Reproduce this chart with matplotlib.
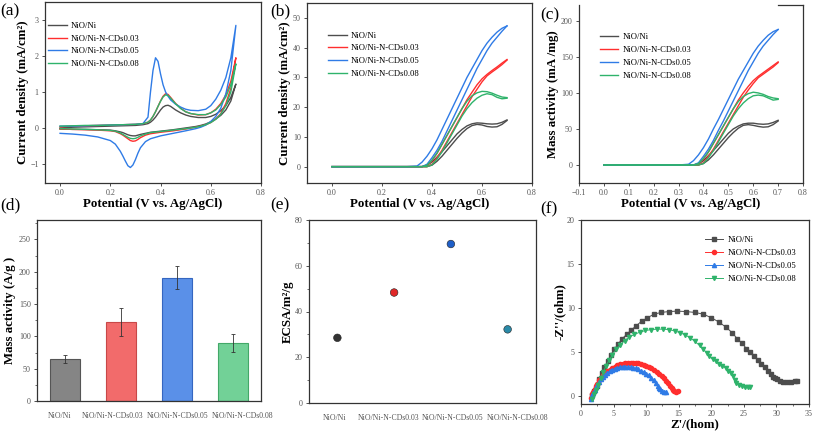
import matplotlib
matplotlib.use("Agg")
import matplotlib.pyplot as plt
import matplotlib.transforms as mtransforms

plt.rcParams['font.family'] = ['Liberation Serif', 'DejaVu Serif']

names = ["NiO/Ni", "NiO/Ni-N-CDs0.03", "NiO/Ni-N-CDs0.05", "NiO/Ni-N-CDs0.08"]
colors = ["#4d4d4d", "#ff2e2e", "#2f7be6", "#2fb36b"]

# ---- (a) CV curves: forward and reverse scans
xf = [0, 0.05, 0.1, 0.15, 0.2, 0.25, 0.3, 0.33, 0.35, 0.36, 0.37, 0.38, 0.39, 0.40, 0.41,
      0.42, 0.43, 0.44, 0.46, 0.48, 0.5, 0.52, 0.55, 0.58, 0.6, 0.62, 0.64, 0.66, 0.68, 0.7]
a_fwd_ni = [0.0, 0.02, 0.03, 0.04, 0.05, 0.06, 0.07, 0.09, 0.12, 0.16, 0.22, 0.30, 0.40, 0.50, 0.58,
            0.62, 0.63, 0.60, 0.50, 0.42, 0.36, 0.32, 0.29, 0.29, 0.32, 0.38, 0.48, 0.62, 0.85, 1.22]
a_fwd_03 = [0.03, 0.05, 0.06, 0.07, 0.08, 0.09, 0.10, 0.12, 0.16, 0.22, 0.32, 0.45, 0.60, 0.75, 0.88,
            0.95, 0.93, 0.85, 0.68, 0.55, 0.45, 0.40, 0.36, 0.37, 0.42, 0.52, 0.68, 0.92, 1.30, 1.95]
a_fwd_05 = [0.05, 0.05, 0.06, 0.07, 0.08, 0.09, 0.10, 0.12, 0.30, 1.00, 1.60, 1.95, 1.85, 1.50, 1.20,
            1.00, 0.88, 0.78, 0.66, 0.58, 0.52, 0.49, 0.48, 0.52, 0.62, 0.80, 1.05, 1.40, 1.95, 2.85]
a_fwd_08 = [0.05, 0.06, 0.07, 0.07, 0.08, 0.09, 0.10, 0.12, 0.16, 0.22, 0.32, 0.45, 0.60, 0.74, 0.86,
            0.92, 0.90, 0.83, 0.67, 0.54, 0.45, 0.40, 0.37, 0.37, 0.42, 0.50, 0.65, 0.86, 1.20, 1.78]
xr = [0.7, 0.68, 0.66, 0.64, 0.62, 0.6, 0.58, 0.56, 0.54, 0.5, 0.45, 0.4, 0.36, 0.34, 0.32,
      0.31, 0.30, 0.29, 0.28, 0.27, 0.26, 0.25, 0.24, 0.22, 0.2, 0.15, 0.1, 0.05, 0.0]
a_rev_ni = [1.22, 0.75, 0.50, 0.35, 0.25, 0.17, 0.11, 0.07, 0.04, 0.0, -0.05, -0.09, -0.12, -0.15, -0.18,
            -0.20, -0.22, -0.22, -0.21, -0.19, -0.16, -0.13, -0.11, -0.08, -0.06, -0.05, -0.04, -0.04, -0.03]
a_rev_03 = [1.95, 1.10, 0.68, 0.40, 0.25, 0.15, 0.09, 0.05, 0.02, -0.03, -0.08, -0.12, -0.16, -0.20, -0.27,
            -0.32, -0.36, -0.37, -0.35, -0.30, -0.25, -0.20, -0.16, -0.10, -0.08, -0.06, -0.05, -0.04, -0.03]
a_rev_05 = [2.85, 1.60, 0.95, 0.55, 0.32, 0.18, 0.08, 0.02, -0.02, -0.08, -0.15, -0.22, -0.30, -0.38, -0.55,
            -0.70, -0.88, -1.03, -1.10, -1.05, -0.92, -0.78, -0.65, -0.45, -0.35, -0.25, -0.20, -0.17, -0.15]
a_rev_08 = [1.78, 1.00, 0.62, 0.38, 0.24, 0.15, 0.09, 0.05, 0.02, -0.02, -0.06, -0.10, -0.13, -0.17, -0.22,
            -0.26, -0.29, -0.30, -0.29, -0.26, -0.22, -0.18, -0.14, -0.09, -0.07, -0.05, -0.04, -0.03, -0.02]

# ---- (b) current density loops, (c) mass activity loops
xb = [0, 0.1, 0.2, 0.3, 0.34, 0.36, 0.38, 0.40, 0.42, 0.44, 0.46, 0.48, 0.5, 0.52, 0.54, 0.56,
      0.58, 0.6, 0.62, 0.64, 0.66, 0.68, 0.7]
b_up_ni = [0, 0, 0, 0, 0, 0, 0.4, 1.6, 3.2, 5, 7, 9, 11, 12.5, 13.7, 14.4, 14.7, 14.6, 14.4, 14.3, 14.4, 14.9, 15.7]
b_lo_ni = [0, 0, 0, 0, 0, 0, 0, 0.5, 1.8, 3.5, 5.5, 7.5, 9.5, 11.3, 12.8, 13.8, 14.2, 14, 13.5, 13.3, 13.4, 14.2, 15.5]
b_up_03 = [0, 0, 0, 0, 0, 0, 0.5, 2, 4.5, 7.5, 10.5, 13.5, 16.5, 19.5, 22.5, 25, 27.5, 29.5, 31, 32.3, 33.5, 34.8, 36]
b_lo_03 = [0, 0, 0, 0, 0, 0, 0, 0.8, 3, 5.5, 8.5, 11.5, 14.5, 17.5, 20.5, 23.5, 26, 28.5, 30.5, 31.8, 33, 34.3, 35.8]
b_up_05 = [0, 0, 0, 0, 0.2, 1.5, 3.5, 6, 9, 12.5, 16, 19.5, 23, 26.5, 30, 33, 36, 39, 41.5, 43.5, 45.2, 46.5, 47.3]
b_lo_05 = [0, 0, 0, 0, 0, 0, 0.8, 3, 5.5, 8.5, 12, 15.5, 19, 22.5, 26, 29.5, 33, 36, 39, 41.5, 43.5, 45.5, 47.3]
b_up_08 = [0, 0, 0, 0, 0, 0, 0.5, 2.2, 4.5, 7.5, 10.5, 13.5, 16.5, 19.5, 22, 23.8, 24.8, 25.3, 25.2, 24.7, 24, 23.4, 23.2]
b_lo_08 = [0, 0, 0, 0, 0, 0, 0, 0.6, 2.5, 5, 8, 11, 14, 17, 19.5, 21.5, 23, 24, 24.5, 24.2, 23.3, 22.8, 23]

c_up_ni = [0, 0, 0, 0, 0, 0, 1.5, 6, 13, 20, 28, 36, 44, 50, 54, 57, 58, 58, 57, 56.5, 57, 59, 62]
c_lo_ni = [0, 0, 0, 0, 0, 0, 0, 2, 7, 14, 22, 30, 38, 45, 51, 55, 56, 55, 53.5, 52.5, 53, 56, 61]
c_up_03 = [0, 0, 0, 0, 0, 0, 2, 8, 18, 30, 42, 54, 66, 78, 90, 100, 109, 117, 123, 128, 133, 138, 143]
c_lo_03 = [0, 0, 0, 0, 0, 0, 0, 3, 12, 22, 34, 46, 58, 70, 82, 94, 104, 113, 121, 126, 131, 136, 142]
c_up_05 = [0, 0, 0, 0, 1, 6, 14, 24, 36, 50, 63, 77, 91, 105, 119, 131, 143, 155, 165, 173, 180, 185, 188]
c_lo_05 = [0, 0, 0, 0, 0, 0, 3, 12, 22, 34, 48, 61, 75, 89, 103, 117, 131, 143, 155, 165, 173, 181, 188]
c_up_08 = [0, 0, 0, 0, 0, 0, 2, 9, 18, 30, 42, 54, 66, 78, 88, 95, 99, 101, 100, 98, 95, 93, 92]
c_lo_08 = [0, 0, 0, 0, 0, 0, 0, 2, 10, 20, 32, 44, 56, 68, 78, 86, 92, 96, 97, 96, 93, 90, 91]

# ---- (d) mass activity bars, (e) ECSA
mass_act = [65, 122, 191, 90]
mass_err = [6, 22, 18, 14]
bar_colors = ["#858585", "#f26b6b", "#5a90e8", "#72d197"]
bar_edges = ["#555555", "#c84848", "#3566c0", "#43a868"]
ecsa = [28.5, 48.3, 69.5, 32.2]
ecsa_colors = ["#333333", "#e02828", "#1f5fc8", "#2a8aa8"]

# ---- (f) Nyquist
nq_x_ni = [1.7, 2.0, 2.4, 2.8, 3.2, 3.6, 4.1, 4.6, 5.1, 5.7, 6.3, 7.0, 7.7, 8.5, 9.3, 10.2, 11.2, 12.3,
           13.5, 14.8, 16.1, 17.5, 18.8, 20.0, 21.2, 22.3, 23.2, 24.0, 24.7, 25.4, 26.0, 26.6, 27.2,
           27.7, 28.2, 28.7, 29.1, 29.5, 29.8, 30.1, 30.5, 31.0, 31.6, 32.2, 32.8, 33.2]
nq_y_ni = [0.1, 0.6, 1.2, 1.9, 2.6, 3.3, 4.0, 4.7, 5.3, 5.9, 6.5, 7.0, 7.5, 8.0, 8.5, 8.9, 9.3, 9.5,
           9.6, 9.65, 9.6, 9.5, 9.3, 8.9, 8.4, 7.8, 7.2, 6.5, 6.0, 5.4, 5.0, 4.6, 4.1,
           3.7, 3.3, 2.9, 2.5, 2.2, 2.0, 1.9, 1.75, 1.65, 1.6, 1.65, 1.7, 1.75]
nq_x_03 = [1.5, 1.7, 1.9, 2.1, 2.3, 2.5, 2.8, 3.1, 3.4, 3.7, 4.0, 4.4, 4.8, 5.2, 5.6, 6.0, 6.4, 6.8,
           7.2, 7.6, 8.0, 8.4, 8.8, 9.2, 9.6, 10.0, 10.4, 10.8, 11.2, 11.6, 12.0, 12.4, 12.8, 13.1,
           13.4, 13.7, 13.9, 14.1, 14.3, 14.6, 14.9]
nq_y_03 = [-0.2, 0.2, 0.5, 0.8, 1.1, 1.4, 1.8, 2.1, 2.4, 2.6, 2.8, 3.0, 3.2, 3.35, 3.5, 3.6, 3.7, 3.75,
           3.8, 3.8, 3.8, 3.78, 3.72, 3.65, 3.55, 3.45, 3.3, 3.15, 2.95, 2.75, 2.5, 2.25, 2.0, 1.75,
           1.5, 1.2, 0.9, 0.7, 0.55, 0.5, 0.55]
nq_x_05 = [1.5, 1.7, 1.9, 2.1, 2.3, 2.5, 2.8, 3.1, 3.4, 3.7, 4.0, 4.4, 4.8, 5.2, 5.6, 6.0, 6.4, 6.8,
           7.2, 7.6, 8.0, 8.4, 8.8, 9.2, 9.6, 10.0, 10.4, 10.8, 11.2, 11.5, 11.8, 12.0, 12.2, 12.4,
           12.7, 13.0]
nq_y_05 = [-0.3, 0.1, 0.4, 0.7, 1.0, 1.3, 1.6, 1.9, 2.15, 2.4, 2.6, 2.8, 2.95, 3.1, 3.2, 3.28, 3.3, 3.32,
           3.3, 3.28, 3.22, 3.15, 3.05, 2.9, 2.75, 2.55, 2.35, 2.1, 1.8, 1.5, 1.2, 0.95, 0.75, 0.6,
           0.5, 0.5]
nq_x_08 = [1.7, 2.0, 2.3, 2.6, 3.0, 3.4, 3.8, 4.3, 4.8, 5.4, 6.0, 6.7, 7.4, 8.2, 9.0, 9.9, 10.8, 11.7,
           12.6, 13.5, 14.4, 15.2, 16.0, 16.8, 17.5, 18.2, 18.8, 19.3, 19.7, 20.2, 20.7, 21.2, 21.7,
           22.2, 22.6, 23.0, 23.3, 23.6, 23.8, 24.2, 24.7, 25.2, 25.6, 26.0]
nq_y_08 = [-0.3, 0.2, 0.7, 1.3, 2.0, 2.7, 3.4, 4.1, 4.7, 5.3, 5.8, 6.3, 6.7, 7.0, 7.25, 7.45, 7.55, 7.6,
           7.6, 7.55, 7.4, 7.2, 6.95, 6.6, 6.2, 5.75, 5.3, 4.9, 4.5, 4.2, 3.95, 3.7, 3.45,
           3.2, 2.9, 2.6, 2.3, 1.8, 1.5, 1.3, 1.15, 1.05, 1.0, 1.05]

W, H = 813, 432
fig = plt.figure(figsize=(W / 100, H / 100), dpi=100)


def make_ax(l, r, t, b):
    ax = fig.add_axes([l / W, 1 - b / H, (r - l) / W, (b - t) / H])
    for s in ax.spines.values():
        s.set_linewidth(0.9)
        s.set_color("#333333")
    ax.tick_params(which="both", labelsize=5.8, length=2.5, width=0.6, pad=2,
                   colors="#333333", labelcolor="#555555")
    ax.tick_params(which="minor", length=1.5, width=0.5)
    return ax


def sample_labels(ax, shifts):
    # category labels sit a little off-centre in the original
    ax.set_xticks(range(4))
    ax.set_xticklabels(names, fontsize=5.6)
    ax.tick_params(axis="x", length=0, pad=8)
    for lab, dx in zip(ax.get_xticklabels(), shifts):
        lab.set_transform(lab.get_transform() +
                          mtransforms.ScaledTranslation(dx / 100, 0, fig.dpi_scale_trans))


lab_font = dict(fontsize=9.3, fontweight="bold")
leg_kw = dict(frameon=False, fontsize=6.2, handlelength=2.1, labelspacing=0.55,
              loc="upper left", borderaxespad=0, handletextpad=0.5)

# (a)
ax = make_ax(45, 261, 2, 183)
fwd = [a_fwd_ni, a_fwd_03, a_fwd_05, a_fwd_08]
rev = [a_rev_ni, a_rev_03, a_rev_05, a_rev_08]
for i in range(4):
    ax.plot(xf + xr, fwd[i] + rev[i], color=colors[i], lw=1.0, label=names[i])
ax.set_xlim(-0.06, 0.8)
ax.set_ylim(-1.53, 3.5)
ax.set_xticks([0.0, 0.2, 0.4, 0.6, 0.8])
ax.set_yticks([-1, 0, 1, 2, 3])
ax.set_xlabel("Potential (V vs. Ag/AgCl)", labelpad=0.5, **lab_font)
ax.set_ylabel("Current density (mA/cm²)", labelpad=1, **lab_font)
ax.legend(bbox_to_anchor=(0.0, 0.91), **leg_kw)

# (b) and (c)
for (l, r, t, b), ups, los, ylim, yt, xl, ylab in [
    ((307, 532, 3, 183), [b_up_ni, b_up_03, b_up_05, b_up_08], [b_lo_ni, b_lo_03, b_lo_05, b_lo_08],
     (-5.5, 55), [0, 10, 20, 30, 40, 50], -0.1, "Current density (mA/cm²)"),
    ((579, 803, 5, 183), [c_up_ni, c_up_03, c_up_05, c_up_08], [c_lo_ni, c_lo_03, c_lo_05, c_lo_08],
     (-25, 222), [0, 50, 100, 150, 200], -0.1, "Mass activity (mA /mg)"),
]:
    ax = make_ax(l, r, t, b)
    for i in range(4):
        ax.plot(xb, ups[i], color=colors[i], lw=1.0, label=names[i])
        ax.plot(xb, los[i], color=colors[i], lw=1.0)
    ax.set_xlim(xl, 0.8)
    ax.set_ylim(*ylim)
    ax.set_yticks(yt)
    ax.set_xlabel("Potential (V vs. Ag/AgCl)", labelpad=0.5, **lab_font)
    ax.set_ylabel(ylab, labelpad=1, **lab_font)
    ax.legend(bbox_to_anchor=(0.08, 0.86), **leg_kw)
    if l > 500:
        ax.set_xticks([-0.1, 0.0, 0.1, 0.2, 0.3, 0.4, 0.5, 0.6, 0.7, 0.8])
        ax.spines["top"].set_bounds(0.7, 0.8)
    else:
        ax.set_xticks([0.0, 0.2, 0.4, 0.6, 0.8])

# (d)
ax = make_ax(37, 261, 220, 401)
pos = range(4)
ax.bar(pos, mass_act, width=0.55, color=bar_colors, edgecolor=bar_edges, linewidth=0.8)
ax.errorbar(pos, mass_act, yerr=mass_err, fmt="none", ecolor="#333333", elinewidth=0.6,
            capsize=1.5, capthick=0.6)
ax.set_xlim(-0.5, 3.5)
ax.set_ylim(0, 280)
ax.set_yticks([0, 50, 100, 150, 200, 250])
ax.set_yticks([25, 75, 125, 175, 225, 275], minor=True)
sample_labels(ax, [-5, -8, 1, 10])
ax.set_ylabel("Mass activity (A/g )", labelpad=2, **lab_font)

# (e)
ax = make_ax(309, 536, 220, 403)
ax.scatter(list(pos), ecsa, s=30, c=ecsa_colors, edgecolors="#222222", linewidths=0.4, zorder=3)
ax.set_xlim(-0.5, 3.5)
ax.set_ylim(0, 80)
ax.set_yticks([0, 20, 40, 60, 80])
ax.set_yticks([10, 30, 50, 70], minor=True)
sample_labels(ax, [-3, -6, 2, 10])
ax.set_ylabel("ECSA/m²/g", labelpad=1, **lab_font)

# (f)
ax = make_ax(581, 809, 220, 404)
nq = [(nq_x_ni, nq_y_ni, "s"), (nq_x_03, nq_y_03, "o"), (nq_x_05, nq_y_05, "^"), (nq_x_08, nq_y_08, "v")]
for i, (xs, ys, m) in enumerate(nq):
    ax.plot(xs, ys, color=colors[i], lw=0.7, marker=m, markersize=3, label=names[i])
ax.set_xlim(0, 35)
ax.set_ylim(-0.9, 20)
ax.set_xticks([0, 5, 10, 15, 20, 25, 30, 35])
ax.set_xticks([2.5, 7.5, 12.5, 17.5, 22.5, 27.5, 32.5], minor=True)
ax.set_yticks([0, 5, 10, 15, 20])
ax.set_xlabel("Z'/(hom)", labelpad=0, **lab_font)
ax.set_ylabel("-Z''/(ohm)", labelpad=1, **lab_font)
ax.legend(bbox_to_anchor=(0.53, 0.93), **leg_kw)

# panel letters
for txt, x, y in [("(a)", 0, 3), ("(b)", 270, 3), ("(c)", 540, 7),
                  ("(d)", 0, 197), ("(e)", 270, 197), ("(f)", 540, 201)]:
    fig.text(x / W, 1 - y / H, txt, fontsize=12.5, va="top", ha="left")

fig.savefig("out.png", dpi=100)
